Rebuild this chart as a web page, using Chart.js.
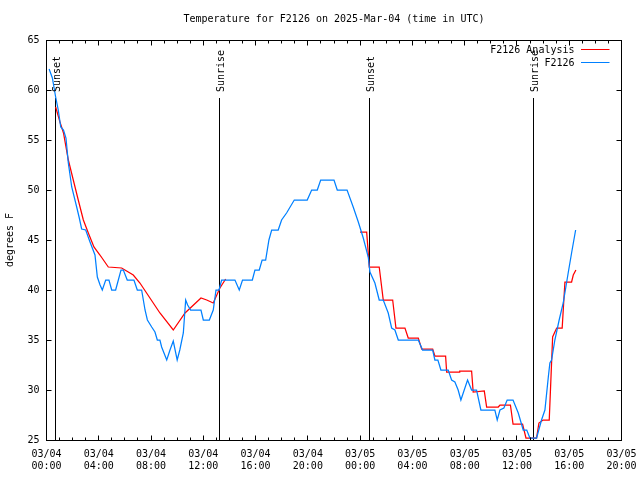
<!DOCTYPE html>
<html><head><meta charset="utf-8">
<script src="https://cdn.jsdelivr.net/npm/chart.js@4.4.1/dist/chart.umd.min.js"></script>
<style>html,body{margin:0;padding:0;background:#fff;}canvas{display:block;}</style>
</head><body>
<canvas id="c" width="640" height="480"></canvas>
<script>
// ---- data ----
const titleText = 'Temperature for F2126 on 2025-Mar-04 (time in UTC)';
const yAxisLabel = 'degrees F';
const seriesNames = ['F2126 Analysis', 'F2126'];
const xTickDates = ['03/04','03/04','03/04','03/04','03/04','03/04','03/05','03/05','03/05','03/05','03/05','03/05'];
const xTickTimes = ['00:00','04:00','08:00','12:00','16:00','20:00','00:00','04:00','08:00','12:00','16:00','20:00'];
// hours since 2025-03-04 00:00 UTC
const obsHours = [0.2,0.45,0.7,0.9,1.09,1.3,1.49,1.67,1.93,2.31,
  2.51,2.69,3.0,3.33,3.71,3.89,4.1,4.27,4.53,4.78,
  4.99,5.29,5.7,5.88,6.18,6.69,6.95,7.28,7.54,7.72,
  8.05,8.3,8.48,8.68,8.81,9.2,9.45,9.7,10.0,10.2,
  10.47,10.65,10.8,11.03,11.82,12.0,12.46,12.76,12.97,13.2,
  13.4,14.42,14.75,15.0,15.75,15.95,16.28,16.5,16.77,17.02,
  17.23,17.73,17.99,18.37,18.96,19.95,20.29,20.72,20.98,22.0,
  22.25,23.0,23.47,23.86,24.24,24.62,24.75,25.13,25.46,25.77,
  26.15,26.41,26.66,26.92,28.45,28.78,29.55,29.72,29.95,30.18,
  30.74,31.0,31.25,31.5,31.71,32.22,32.53,32.91,33.24,34.31,
  34.49,34.7,35.0,35.25,35.7,36.1,36.48,36.75,36.99,37.5,
  37.88,38.14,38.4,38.52,38.65,38.9,39.23,39.54,39.92,40.18,
  40.49];
const obsTemps = [62.1,61.2,59.3,58.0,56.3,56.0,55.2,52.7,50.3,48.3,
  47.2,46.1,46.0,44.8,43.5,41.3,40.5,40.0,41.0,41.0,
  40.0,40.0,42.0,42.0,41.0,41.0,40.0,40.0,38.0,37.0,
  36.3,35.8,35.0,35.0,34.3,33.0,34.0,34.9,33.0,34.0,
  35.7,39.0,38.5,38.0,38.0,37.0,37.0,38.0,40.0,40.0,
  41.0,41.0,40.0,41.0,41.0,42.0,42.0,43.0,43.0,45.0,
  46.0,46.0,47.0,47.7,49.0,49.0,50.0,50.0,51.0,51.0,
  50.0,50.0,48.3,46.8,45.2,43.3,41.8,40.7,39.0,39.0,
  37.7,36.2,36.0,35.0,35.0,34.0,34.0,33.0,33.0,32.0,
  32.0,31.0,30.8,30.0,29.0,31.0,30.0,30.0,28.0,28.0,
  27.0,28.0,28.2,29.0,29.0,27.7,26.0,26.0,25.2,25.2,
  27.0,28.0,31.3,32.7,33.0,35.0,37.0,38.7,41.7,43.7,
  46.0];
const anaHours = [0.7,1.03,1.3,1.67,2.05,2.43,2.82,3.2,3.63,4.09,
  4.73,5.75,6.64,7.15,8.68,9.7,10.6,11.82,12.26,12.76,
  13.27,13.71,18.0,23.99,24.5,24.7,25.46,25.77,26.49,26.74,
  27.43,27.68,28.45,28.71,29.55,29.72,30.54,30.62,31.58,31.62,
  32.53,32.65,33.5,33.68,34.57,34.7,35.5,35.7,36.43,36.69,
  37.5,37.68,38.0,38.47,38.73,38.9,39.04,39.46,39.67,40.18,
  40.31,40.51];
const anaTemps = [58.3,56.8,55.7,53.0,51.0,49.0,47.0,45.7,44.3,43.5,
  42.3,42.2,41.5,40.7,37.7,36.0,37.7,39.2,39.0,38.7,
  40.2,41.1,null,45.8,45.8,42.3,42.3,39.0,39.0,36.2,
  36.2,35.2,35.2,34.1,34.1,33.4,33.4,31.8,31.8,31.9,
  31.9,29.8,29.9,28.3,28.3,28.5,28.5,26.6,26.6,25.2,
  25.2,26.7,27.0,27.0,35.3,35.8,36.2,36.2,40.8,40.8,
  41.5,42.0];
const eventNames = ['Sunset','Sunrise','Sunset','Sunrise'];
const eventHours = [0.69, 13.27, 24.70, 37.25];

// ---- style / layout ----
const X_MIN = 0, X_MAX = 44, Y_MIN = 25, Y_MAX = 65;
const EVENT_LINE_TOP = 59.2;
const FONT = '"DejaVu Sans Mono", "Liberation Mono", monospace';
const RED = '#ff0000', BLUE = 'rgb(0,128,255)';

const zip = (xs, ys) => xs.map((x, i) => ({x: x, y: ys[i]}));

const decor = {
  id: 'decor',
  beforeDatasetsDraw(chart) {
    // sunrise / sunset markers, positioned through the x/y scales
    const {ctx, scales: {x, y}} = chart;
    ctx.save();
    ctx.strokeStyle = '#000'; ctx.lineWidth = 1;
    ctx.beginPath();
    eventHours.forEach(h => {
      const px = Math.floor(x.getPixelForValue(h)) + 0.5;
      ctx.moveTo(px, y.getPixelForValue(Y_MIN));
      ctx.lineTo(px, Math.round(y.getPixelForValue(EVENT_LINE_TOP)));
    });
    ctx.stroke();
    ctx.restore();
  },
  afterDraw(chart) {
    const {ctx, chartArea: a, scales: {x, y}} = chart;
    ctx.save();
    ctx.strokeStyle = '#000'; ctx.lineWidth = 1;
    const L = Math.floor(a.left) + 0.5, R = Math.floor(a.right) + 0.5;
    const T = Math.floor(a.top) + 0.5, B = Math.floor(a.bottom) + 0.5;
    ctx.strokeRect(L, T, R - L, B - T);
    ctx.beginPath();
    for (let h = X_MIN; h <= X_MAX; h++) {
      const px = Math.floor(x.getPixelForValue(h)) + 0.5;
      const len = (h % 4 === 0) ? 5 : 3;
      ctx.moveTo(px, B); ctx.lineTo(px, B - len);
      ctx.moveTo(px, T); ctx.lineTo(px, T + len);
    }
    for (let v = Y_MIN; v <= Y_MAX; v += 5) {
      const py = Math.floor(y.getPixelForValue(v)) + 0.5;
      ctx.moveTo(L, py); ctx.lineTo(L + 5, py);
      ctx.moveTo(R, py); ctx.lineTo(R - 5, py);
    }
    ctx.stroke();

    ctx.fillStyle = '#000';
    ctx.font = '10px ' + FONT;
    // event labels
    eventHours.forEach((h, i) => {
      const px = Math.floor(x.getPixelForValue(h)) + 0.5;
      const py = y.getPixelForValue(EVENT_LINE_TOP) - 6;
      ctx.save();
      ctx.translate(px + 1.5, py);
      ctx.rotate(-Math.PI / 2);
      ctx.textAlign = 'left'; ctx.textBaseline = 'middle';
      ctx.fillText(eventNames[i], 0, 0);
      ctx.restore();
    });
    // title
    ctx.textAlign = 'center'; ctx.textBaseline = 'middle';
    ctx.fillText(titleText, (a.left + a.right) / 2, 19);
    // y label
    ctx.save();
    ctx.translate(10, (a.top + a.bottom) / 2);
    ctx.rotate(-Math.PI / 2);
    ctx.fillText(yAxisLabel, 0, 0);
    ctx.restore();
    // legend
    const legendColors = [RED, BLUE];
    seriesNames.forEach((name, i) => {
      const ty = a.top + 10.5 + i * 12.5;
      ctx.textAlign = 'right'; ctx.textBaseline = 'middle';
      ctx.fillStyle = '#000';
      ctx.fillText(name, a.right - 47, ty);
      ctx.strokeStyle = legendColors[i];
      ctx.beginPath();
      ctx.moveTo(a.right - 40.5, Math.floor(ty) - 0.5);
      ctx.lineTo(a.right - 12, Math.floor(ty) - 0.5);
      ctx.stroke();
    });
    ctx.restore();
  }
};

new Chart(document.getElementById('c'), {
  type: 'line',
  data: {
    datasets: [
      { label: seriesNames[1], data: zip(obsHours, obsTemps), borderColor: BLUE, borderWidth: 1.25, pointRadius: 0, fill: false },
      { label: seriesNames[0], data: zip(anaHours, anaTemps), borderColor: RED, borderWidth: 1.25, pointRadius: 0, fill: false, spanGaps: false }
    ]
  },
  options: {
    responsive: false, animation: false, devicePixelRatio: 1,
    layout: { padding: { top: 40, right: 18.5, left: 0, bottom: 0 } },
    elements: { line: { tension: 0 } },
    plugins: { legend: { display: false }, tooltip: { enabled: false }, title: { display: false } },
    scales: {
      x: {
        type: 'linear', min: X_MIN, max: X_MAX,
        grid: { display: false, drawTicks: false },
        border: { display: false },
        afterFit: s => { s.height = 40; s.paddingLeft = 0; s.paddingRight = 0; },
        ticks: {
          stepSize: 4, autoSkip: false, maxRotation: 0, minRotation: 0, padding: 8,
          color: '#000', font: { family: FONT, size: 10, lineHeight: 1.2 },
          callback: v => {
            const i = Math.round(v / 4);
            if (Math.abs(v - i * 4) > 1e-6 || i >= xTickDates.length) return '';
            return [xTickDates[i], xTickTimes[i]];
          }
        }
      },
      y: {
        type: 'linear', min: Y_MIN, max: Y_MAX,
        grid: { display: false, drawTicks: false },
        border: { display: false },
        afterFit: s => { s.width = 46.5; s.paddingTop = 0; s.paddingBottom = 0; },
        ticks: { stepSize: 5, padding: 7, color: '#000', font: { family: FONT, size: 10 } }
      }
    }
  },
  plugins: [decor]
});
</script>
</body></html>
